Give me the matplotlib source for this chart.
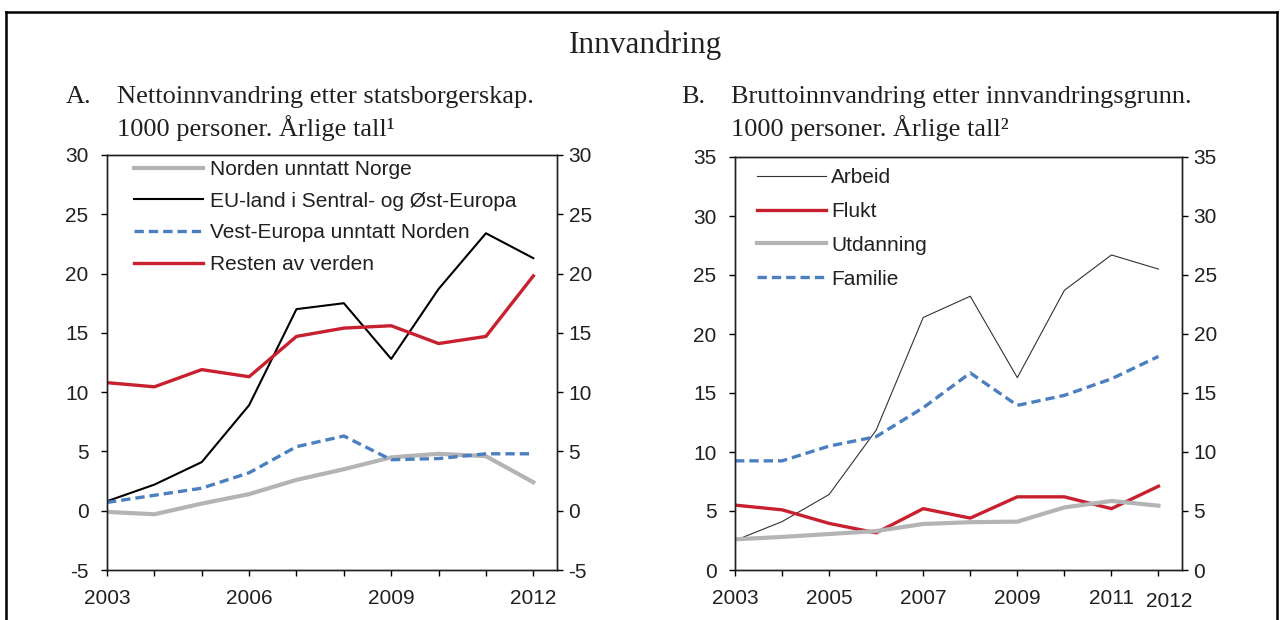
import matplotlib
matplotlib.use('Agg')
import matplotlib.pyplot as plt
from matplotlib.lines import Line2D

plt.rcParams['font.family'] = ['Liberation Sans', 'DejaVu Sans']
plt.rcParams['axes.unicode_minus'] = False

# data, 1000 personer
years = list(range(2003, 2013))

norden = [-0.1, -0.3, 0.6, 1.4, 2.6, 3.5, 4.5, 4.8, 4.6, 2.4]
eu_ost = [0.8, 2.2, 4.1, 8.9, 17.0, 17.5, 12.8, 18.7, 23.4, 21.3]
vest_europa = [0.7, 1.3, 1.9, 3.2, 5.4, 6.3, 4.3, 4.4, 4.8, 4.8]
resten = [10.8, 10.45, 11.9, 11.3, 14.7, 15.4, 15.6, 14.1, 14.7, 19.8]

arbeid = [2.5, 4.1, 6.4, 11.85, 21.4, 23.2, 16.3, 23.7, 26.7, 25.5]
flukt = [5.5, 5.1, 3.95, 3.15, 5.2, 4.4, 6.2, 6.2, 5.2, 7.1]
utdanning = [2.6, 2.8, 3.05, 3.3, 3.9, 4.05, 4.1, 5.3, 5.85, 5.45]
familie = [9.25, 9.25, 10.5, 11.3, 13.75, 16.7, 13.95, 14.8, 16.2, 18.1]

left_xlabels = ['2003', '', '', '2006', '', '', '2009', '', '', '2012']
right_xlabels = ['2003', '', '2005', '', '2007', '', '2009', '', '2011', '']

GRAY = '#b4b4b6'
RED = '#c8202f'
BLUE = '#4a7fc0'
TXT = '#231f20'
dash = (0, (2.8, 1.5))
FS = 15

fig = plt.figure(figsize=(12.83, 6.20), dpi=100)
W, H = 1283, 620


def px_axes(x0, y0, x1, y1):
    return fig.add_axes([x0 / W, 1 - y1 / H, (x1 - x0) / W, (y1 - y0) / H])


def style(ax, ymin, ymax, step, xlabels):
    ax.set_xlim(2003, 2012.5)
    ax.set_ylim(ymin, ymax)
    ax.set_yticks(range(ymin, ymax + 1, step))
    ax.set_xticks(years)
    ax.set_xticklabels(xlabels)
    ax.tick_params(axis='y', direction='out', length=4.3, width=1, labelsize=FS,
                   labelcolor=TXT, pad=9)
    ax.tick_params(axis='x', direction='out', length=4.3, width=1, labelsize=FS,
                   labelcolor=TXT, pad=9.5)
    for s in ax.spines.values():
        s.set_linewidth(1.0)
        s.set_color(TXT)
    # mirrored scale on the right, labels closer to the spine
    axr = ax.twinx()
    axr.set_ylim(ymin, ymax)
    axr.set_yticks(range(ymin, ymax + 1, step))
    axr.tick_params(axis='y', direction='out', length=4.3, width=1, labelsize=FS,
                    labelcolor=TXT, pad=4)
    for s in axr.spines.values():
        s.set_linewidth(1.0)
        s.set_color(TXT)


# panel A
ax1 = px_axes(107, 155, 557, 570)
ax1.plot(years, norden, color=GRAY, lw=3.0, label='Norden unntatt Norge')
ax1.plot(years, eu_ost, color='black', lw=1.5, label='EU-land i Sentral- og Øst-Europa')
ax1.plot(years, vest_europa, color=BLUE, lw=2.4, linestyle=dash, label='Vest-Europa unntatt Norden')
ax1.plot(years, resten, color=RED, lw=2.4, label='Resten av verden')
ax1.legend(loc='upper left', bbox_to_anchor=(0.06, 0.988), frameon=False, fontsize=FS,
           handlelength=3.3, handletextpad=0.34, labelspacing=0.61, borderpad=0,
           borderaxespad=0, labelcolor=TXT)
style(ax1, -5, 30, 5, left_xlabels)

# panel B
ax2 = px_axes(735, 157, 1182, 570)
ax2.plot(years, arbeid, color='#333333', lw=0.8, label='Arbeid')
ax2.plot(years, flukt, color=RED, lw=2.4, label='Flukt')
ax2.plot(years, utdanning, color=GRAY, lw=3.0, label='Utdanning')
ax2.plot(years, familie, color=BLUE, lw=2.4, linestyle=dash, label='Familie')
ax2.legend(loc='upper left', bbox_to_anchor=(0.05, 0.973), frameon=False, fontsize=FS,
           handlelength=3.3, handletextpad=0.25, labelspacing=0.71, borderpad=0,
           borderaxespad=0, labelcolor=TXT)
style(ax2, 0, 35, 5, right_xlabels)
ax2.annotate('2012', xy=(2012, 0), xycoords=('data', 'axes fraction'), xytext=(8, -16),
             textcoords='offset points', ha='center', va='top', fontsize=FS, color=TXT)

# titles
serif = ['Liberation Serif', 'DejaVu Serif']
fig.text(645 / W, 1 - 45 / H, 'Innvandring', ha='center', va='center', fontsize=22.5,
         family=serif, color=TXT)
fig.text(66 / W, 1 - 97 / H, 'A.', ha='left', va='center', fontsize=19, family=serif, color=TXT)
fig.text(117 / W, 1 - 97 / H, 'Nettoinnvandring etter statsborgerskap.', ha='left', va='center',
         fontsize=19, family=serif, color=TXT)
fig.text(117 / W, 1 - 128 / H, '1000 personer. Årlige tall¹', ha='left', va='center',
         fontsize=19, family=serif, color=TXT)
fig.text(681 / W, 1 - 97 / H, 'B.', ha='left', va='center', fontsize=19, family=serif, color=TXT)
fig.text(731 / W, 1 - 97 / H, 'Bruttoinnvandring etter innvandringsgrunn.', ha='left', va='center',
         fontsize=19, family=serif, color=TXT)
fig.text(731 / W, 1 - 128 / H, '1000 personer. Årlige tall²', ha='left', va='center',
         fontsize=19, family=serif, color=TXT)

# outer frame (open at the bottom)
fx0, fx1, fy = 6 / W, 1277 / W, 1 - 12 / H
for xs, ys in [([fx0, fx0], [0, fy]), ([fx0, fx1], [fy, fy]), ([fx1, fx1], [fy, 0])]:
    fig.add_artist(Line2D(xs, ys, transform=fig.transFigure, color='black', lw=1.8))

fig.savefig('out.png', dpi=100)
